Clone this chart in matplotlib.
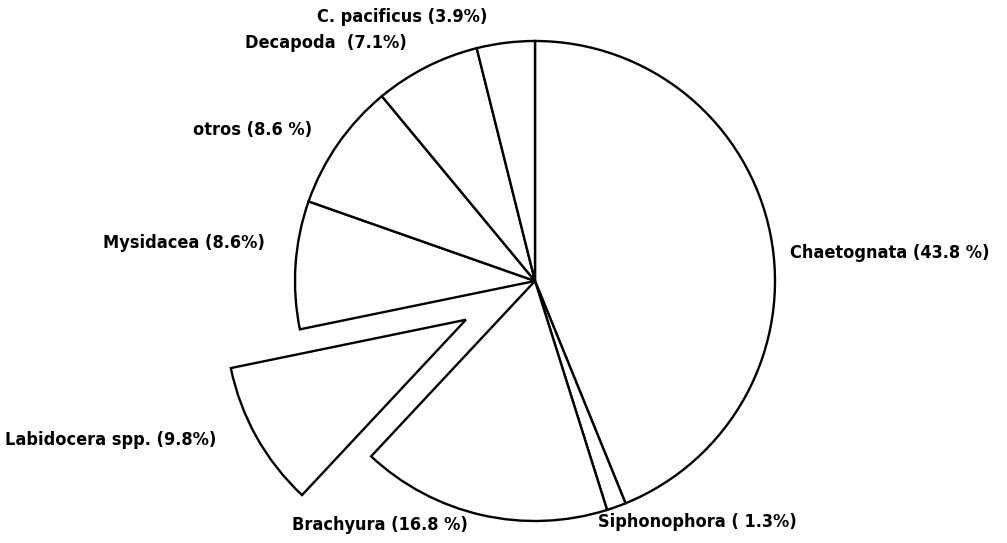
import matplotlib
matplotlib.use("Agg")
from matplotlib import pyplot as plt

# composition (%), clockwise from 12 o'clock
groups = ['Chaetognata', 'Siphonophora', 'Brachyura', 'Labidocera spp.',
          'Mysidacea', 'otros', 'Decapoda', 'C. pacificus']
percent = [43.8, 1.3, 16.8, 9.8, 8.6, 8.6, 7.1, 3.9]
label_text = ['Chaetognata (43.8 %)', 'Siphonophora ( 1.3%)', 'Brachyura (16.8 %)',
              'Labidocera spp. (9.8%)', 'Mysidacea (8.6%)', 'otros (8.6 %)',
              'Decapoda  (7.1%)', 'C. pacificus (3.9%)']
explode_frac = [0, 0, 0, 0.33, 0, 0, 0, 0]

# label anchor (left x, centre y) in pixels from the top-left corner
label_pos = [(790, 253), (598, 522), (292, 525), (5, 440),
             (103, 243), (193, 130), (245, 43), (317, 17)]

W, H = 1007, 543
R = 240
fig = plt.figure(figsize=(W / 100, H / 100), dpi=100)
ax = fig.add_axes([0, 0, 1, 1])

# pie's explode is an absolute offset, so scale it by the radius
ax.pie(percent, explode=[e * R for e in explode_frac], startangle=90,
       counterclock=False, center=(535, H - 281), radius=R,
       colors=['white'] * len(percent),
       wedgeprops=dict(edgecolor='black', linewidth=1.7), frame=True)

for txt, (x, y) in zip(label_text, label_pos):
    ax.text(x, H - y, txt, ha='left', va='center', fontsize=13,
            fontweight='bold', family='DejaVu Sans', fontstretch='condensed')

ax.set_xlim(0, W)
ax.set_ylim(0, H)
ax.set_aspect('equal')
ax.axis('off')

fig.savefig('out.png', dpi=100, facecolor='white')
plt.close()
